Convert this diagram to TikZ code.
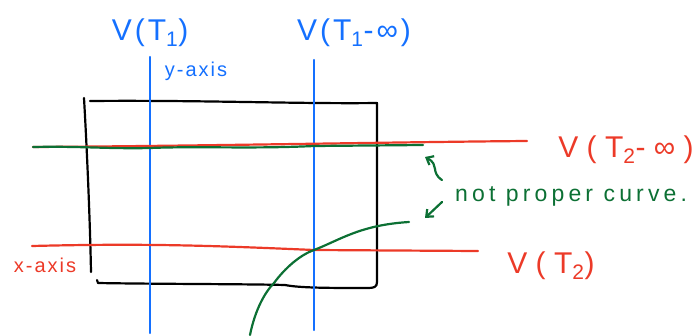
\documentclass[tikz,border=0pt]{standalone}
\usepackage{fontspec}
\setmainfont{Liberation Sans}
\newfontfamily\hand[LetterSpace=10]{Liberation Sans}
\newfontfamily\handwide[LetterSpace=28]{Liberation Sans}
\newfontfamily\handnote[LetterSpace=18]{Liberation Sans}
\usetikzlibrary{arrows.meta}
\definecolor{pblue}{RGB}{20,112,255}
\definecolor{pred}{RGB}{236,58,40}
\definecolor{pgreen}{RGB}{12,112,52}
\tikzset{
  ink/.style={line width=2.2pt, line cap=round, line join=round},
  lbl/.style={inner sep=0pt, font=\hand\fontsize{30}{34}\selectfont},
  lblwide/.style={inner sep=0pt, font=\handwide\fontsize{30}{34}\selectfont},
  small/.style={inner sep=0pt, font=\hand\fontsize{20}{24}\selectfont},
  note/.style={inner sep=0pt, font=\handnote\fontsize{23}{26}\selectfont, text=pgreen},
  barb/.style={-{Straight Barb[length=6pt,width=10pt]}}
}
\begin{document}
\begin{tikzpicture}[x=1pt,y=-1pt]
\useasboundingbox (0,0) rectangle (699,335);
% box
\draw[ink] (84,98) .. controls (87,150) and (90,220) .. (91,272);
\draw[ink] (90,101) .. controls (200,100) and (300,104) .. (377,103) -- (377,282) .. controls (377,287) and (374,288) .. (368,288)
  .. controls (330,288) and (300,288) .. (285,285) .. controls (250,284) and (150,284) .. (98,283) -- (97,280);
% blue verticals
\draw[ink, pblue] (150,57) coordinate (b1t) -- (150,333) coordinate (b1b);
\draw[ink, pblue] (314,60) coordinate (b2t) -- (314,330) coordinate (b2b);
% red top and green top
\draw[ink, pred] (33,147) .. controls (200,146) and (400,142) .. (527,141);
\draw[ink, pgreen] (33,147) .. controls (80,146) and (110,149) .. (150,148) .. controls (200,146) and (250,149) .. (314,146) -- (423,145);
% red bottom
\draw[ink, pred] (32,246) .. controls (150,243) and (220,246) .. (314,250) -- (478,251);
% green curve
\draw[ink, pgreen] (250,335) .. controls (255,310) and (265,292) .. (274,283) .. controls (285,268) and (300,255) .. (314,250)
  .. controls (340,240) and (360,225) .. (409,222);
% labels
\node[lbl, text=pblue] (vt1) at (150,33) {V(T\textsubscript{1})};
\node[lbl, text=pblue] (vt1i) at (354,33) {V(T\textsubscript{1}-∞)};
\node[small, text=pblue] (yax) at (196,71) {y-axis};
\node[lblwide, text=pred] (vt2i) at (626,150) {V(T\textsubscript{2}-∞)};
\node[lblwide, text=pred] (vt2) at (551,266) {V(T\textsubscript{2})};
\node[small, text=pred] (xax) at (45,265) {x-axis};
\node[note, anchor=west] (np) at (455,196) {not proper curve.};
% arrows
\coordinate (a1s) at (442,180);
\coordinate (a1e) at (425,157);
\coordinate (a2s) at (442,202);
\coordinate (a2e) at (425,218);
\draw[ink, pgreen, barb] (a1s) .. controls (430,172) and (440,165) .. (a1e);
\draw[ink, pgreen, barb] (a2s) -- (a2e);
\end{tikzpicture}
\end{document}
